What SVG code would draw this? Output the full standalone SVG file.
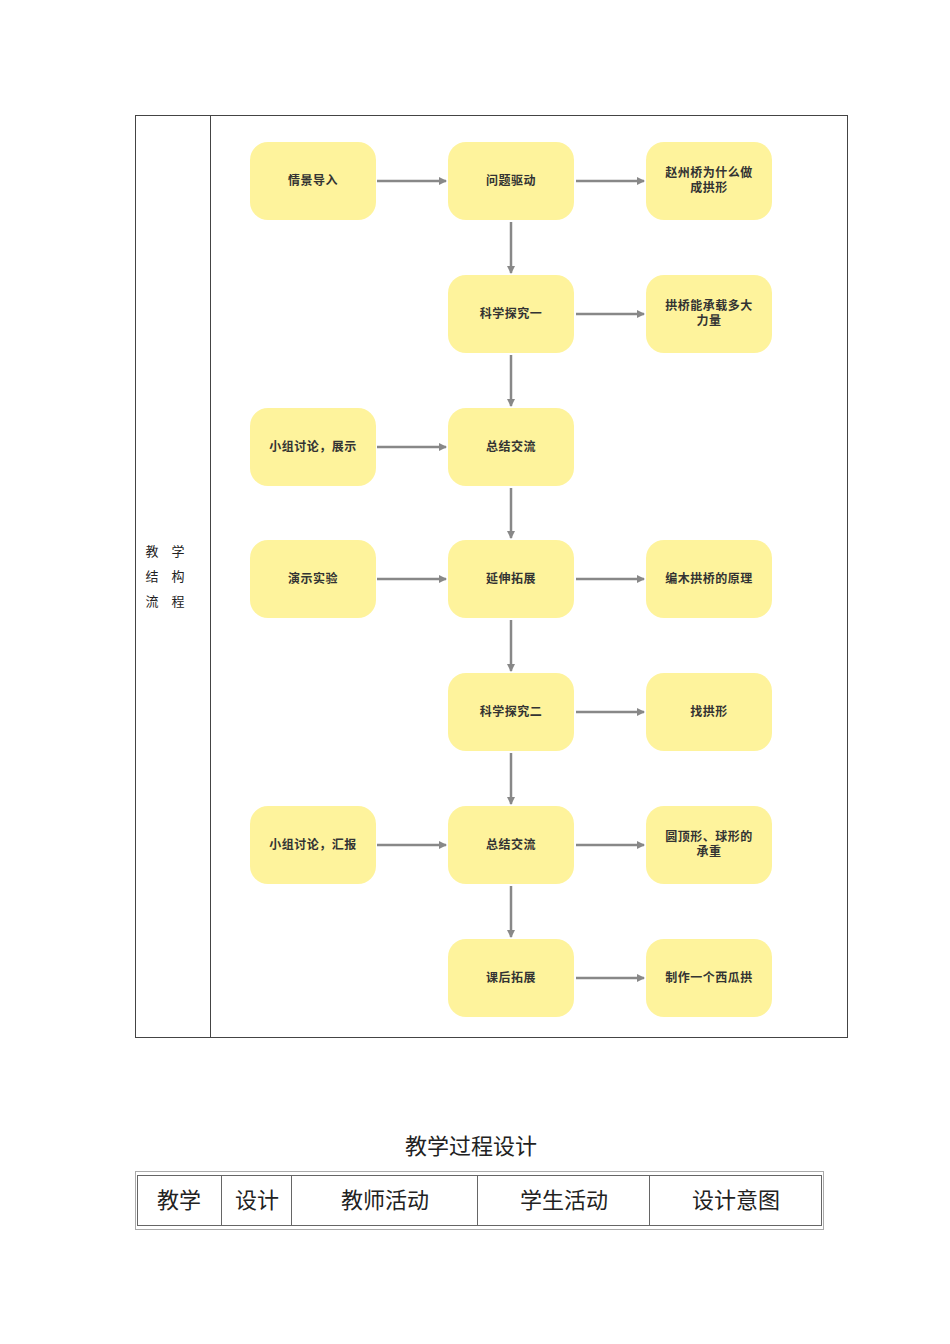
<svg xmlns="http://www.w3.org/2000/svg" width="950" height="1344" viewBox="0 0 950 1344">
<style>
.n rect{fill:#fef39c;}
.n text{font-family:"Noto Sans CJK SC",sans-serif;font-size:12px;fill:#333;text-anchor:middle;font-weight:bold;letter-spacing:0.5px}
.c line{stroke:#888;stroke-width:2.5;marker-end:url(#a)}
.t{font-family:"Noto Sans CJK SC",sans-serif;fill:#222;text-anchor:middle}
</style>
<defs><marker id="a" markerWidth="8" markerHeight="8" refX="7" refY="4" orient="auto" markerUnits="userSpaceOnUse"><path d="M0,0L8,4L0,8z" fill="#888"/></marker></defs>
<rect width="950" height="1344" fill="#fff"/>
<rect x="135.5" y="115.5" width="712" height="922" fill="none" stroke="#444"/>
<line x1="210.5" y1="115" x2="210.5" y2="1037" stroke="#444"/>
<g class="t" font-size="13"><text x="165" y="556">教　学</text><text x="165" y="581">结　构</text><text x="165" y="606">流　程</text></g>
<g class="c">
<line x1="377" y1="181" x2="446" y2="181"/><line x1="576" y1="181" x2="644" y2="181"/>
<line x1="511" y1="222" x2="511" y2="273"/><line x1="576" y1="314" x2="644" y2="314"/>
<line x1="511" y1="355" x2="511" y2="406"/><line x1="377" y1="447" x2="446" y2="447"/>
<line x1="511" y1="488" x2="511" y2="538"/><line x1="377" y1="579" x2="446" y2="579"/><line x1="576" y1="579" x2="644" y2="579"/>
<line x1="511" y1="620" x2="511" y2="671"/><line x1="576" y1="712" x2="644" y2="712"/>
<line x1="511" y1="753" x2="511" y2="804"/><line x1="377" y1="845" x2="446" y2="845"/><line x1="576" y1="845" x2="644" y2="845"/>
<line x1="511" y1="886" x2="511" y2="937"/><line x1="576" y1="978" x2="644" y2="978"/>
</g>
<g id="n1" class="n"><rect x="250" y="142" width="126" height="78" rx="18"/><text x="313" y="185">情景导入</text></g>
<g id="n2" class="n"><rect x="448" y="142" width="126" height="78" rx="18"/><text x="511" y="185">问题驱动</text></g>
<g id="n3" class="n"><rect x="646" y="142" width="126" height="78" rx="18"/><text x="709" y="177">赵州桥为什么做</text><text x="709" y="192">成拱形</text></g>
<g id="n4" class="n"><rect x="448" y="275" width="126" height="78" rx="18"/><text x="511" y="318">科学探究一</text></g>
<g id="n5" class="n"><rect x="646" y="275" width="126" height="78" rx="18"/><text x="709" y="310">拱桥能承载多大</text><text x="709" y="325">力量</text></g>
<g id="n6" class="n"><rect x="250" y="408" width="126" height="78" rx="18"/><text x="313" y="451">小组讨论，展示</text></g>
<g id="n7" class="n"><rect x="448" y="408" width="126" height="78" rx="18"/><text x="511" y="451">总结交流</text></g>
<g id="n8" class="n"><rect x="250" y="540" width="126" height="78" rx="18"/><text x="313" y="583">演示实验</text></g>
<g id="n9" class="n"><rect x="448" y="540" width="126" height="78" rx="18"/><text x="511" y="583">延伸拓展</text></g>
<g id="n10" class="n"><rect x="646" y="540" width="126" height="78" rx="18"/><text x="709" y="583">编木拱桥的原理</text></g>
<g id="n11" class="n"><rect x="448" y="673" width="126" height="78" rx="18"/><text x="511" y="716">科学探究二</text></g>
<g id="n12" class="n"><rect x="646" y="673" width="126" height="78" rx="18"/><text x="709" y="716">找拱形</text></g>
<g id="n13" class="n"><rect x="250" y="806" width="126" height="78" rx="18"/><text x="313" y="849">小组讨论，汇报</text></g>
<g id="n14" class="n"><rect x="448" y="806" width="126" height="78" rx="18"/><text x="511" y="849">总结交流</text></g>
<g id="n15" class="n"><rect x="646" y="806" width="126" height="78" rx="18"/><text x="709" y="841">圆顶形、球形的</text><text x="709" y="856">承重</text></g>
<g id="n16" class="n"><rect x="448" y="939" width="126" height="78" rx="18"/><text x="511" y="982">课后拓展</text></g>
<g id="n17" class="n"><rect x="646" y="939" width="126" height="78" rx="18"/><text x="709" y="982">制作一个西瓜拱</text></g>
<text class="t" x="471" y="1154" font-size="22">教学过程设计</text>
<rect x="135.5" y="1171.5" width="688" height="58" fill="none" stroke="#aaa"/>
<rect x="137.5" y="1175.5" width="684" height="50" fill="none" stroke="#666"/>
<g stroke="#666"><line x1="221.5" y1="1175" x2="221.5" y2="1225"/><line x1="291.5" y1="1175" x2="291.5" y2="1225"/><line x1="477.5" y1="1175" x2="477.5" y2="1225"/><line x1="649.5" y1="1175" x2="649.5" y2="1225"/></g>
<g class="t" font-size="22"><text x="179" y="1208">教学</text><text x="257" y="1208">设计</text><text x="385" y="1208">教师活动</text><text x="564" y="1208">学生活动</text><text x="736" y="1208">设计意图</text></g>
</svg>
